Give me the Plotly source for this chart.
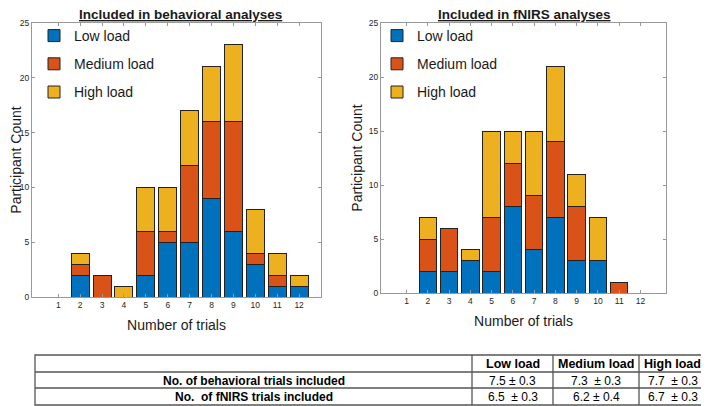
import plotly.graph_objects as go

trials = list(range(1, 13))
loads = ["Low load", "Medium load", "High load"]
colors = ["#0072BD", "#D95319", "#EDB120"]

# behavioral analyses counts per load
beh_low = [0, 2, 0, 0, 2, 5, 5, 9, 6, 3, 1, 1]
beh_med = [0, 1, 2, 0, 4, 1, 7, 7, 10, 1, 1, 0]
beh_high = [0, 1, 0, 1, 4, 4, 5, 5, 7, 4, 2, 1]

# fNIRS analyses counts per load
fn_low = [0, 2, 2, 3, 2, 8, 4, 7, 3, 3, 0, 0]
fn_med = [0, 3, 4, 0, 5, 4, 5, 7, 5, 0, 1, 0]
fn_high = [0, 2, 0, 1, 8, 3, 6, 7, 3, 4, 0, 0]

# summary table
header_labels = ["", "Low load", "Medium load", "High load"]
row_labels = ["No. of behavioral trials included", "No.\u00a0 of fNIRS trials included"]
col_low = ["7.5 ± 0.3", "6.5\u00a0 ± 0.3"]
col_med = ["7.3\u00a0 ± 0.3", "6.2 ± 0.4"]
col_high = ["7.7\u00a0 ± 0.3", "6.7\u00a0 ± 0.3"]

# page body has an 8px margin, so the figure is drawn 8px in and 8px smaller
OFF = 8
W, H = 709 - OFF, 406 - OFF
FONT = "Arial, Liberation Sans, sans-serif"


def px(x):
    return (x - OFF) / W


def py(y):
    return 1 - (y - OFF) / H


fig = go.Figure()

for vals, name, c in zip([beh_low, beh_med, beh_high], loads, colors):
    fig.add_trace(go.Bar(x=trials, y=vals, name=name, marker_color=c,
                         marker_line=dict(color="#222222", width=1),
                         width=0.82, xaxis="x", yaxis="y",
                         legend="legend", legendgroup=name))

for vals, name, c in zip([fn_low, fn_med, fn_high], loads, colors):
    fig.add_trace(go.Bar(x=trials, y=vals, name=name, marker_color=c,
                         marker_line=dict(color="#222222", width=1),
                         width=0.82, xaxis="x2", yaxis="y2",
                         legend="legend2", legendgroup=name))

# table drawn with lines + text so rows stay 17px high
col_edges = [35, 472, 553, 639, 706]
row_edges = [355, 372, 388, 405]
shapes = []
annotations = []
line = dict(color="#555555", width=1.3)
shapes.append(dict(type="rect", xref="paper", yref="paper",
                   x0=px(col_edges[0]), x1=px(col_edges[-1]),
                   y0=py(row_edges[0]), y1=py(row_edges[-1]), line=line))
for ye in row_edges[1:-1]:
    shapes.append(dict(type="line", xref="paper", yref="paper",
                       x0=px(col_edges[0]), x1=px(col_edges[-1]), y0=py(ye), y1=py(ye), line=line))
for xe in col_edges[1:-1]:
    shapes.append(dict(type="line", xref="paper", yref="paper",
                       x0=px(xe), x1=px(xe), y0=py(row_edges[0]), y1=py(row_edges[-1]), line=line))

table_cols = [[header_labels[0]] + row_labels,
              [header_labels[1]] + col_low,
              [header_labels[2]] + col_med,
              [header_labels[3]] + col_high]
for ci, col in enumerate(table_cols):
    cx = (col_edges[ci] + col_edges[ci + 1]) / 2
    for ri, txt in enumerate(col):
        if not txt:
            continue
        cy = (row_edges[ri] + row_edges[ri + 1]) / 2
        bold = ri == 0 or ci == 0
        annotations.append(dict(text=f"<b>{txt}</b>" if bold else txt,
                                x=px(cx), y=py(cy + 0.5), xref="paper", yref="paper",
                                xanchor="center", yanchor="middle", showarrow=False,
                                font=dict(family=FONT, size=12.5 if ri == 0 else 12, color="black")))

annotations += [
    dict(text="<b><u>Included in behavioral analyses</u></b>", x=px(180), y=py(14.5),
         xref="paper", yref="paper", xanchor="center", yanchor="middle", showarrow=False,
         font=dict(family=FONT, size=13.5, color="#1a1a1a")),
    dict(text="<b><u>Included in fNIRS analyses</u></b>", x=px(524), y=py(14.5),
         xref="paper", yref="paper", xanchor="center", yanchor="middle", showarrow=False,
         font=dict(family=FONT, size=13.5, color="#1a1a1a")),
]

axis_common = dict(showline=True, linecolor="#999999", linewidth=1, mirror="ticks",
                   ticks="inside", ticklen=3, tickcolor="#999999", showgrid=False,
                   zeroline=False, automargin=False,
                   tickfont=dict(family=FONT, size=8.5, color="#262626"))

fig.update_layout(
    width=W, height=H,
    margin=dict(l=0, r=0, t=0, b=0, autoexpand=False),
    paper_bgcolor="white", plot_bgcolor="white",
    barmode="stack",
    font=dict(family=FONT, color="#1a1a1a"),
    xaxis=dict(domain=[px(32), px(321)], range=[-0.2, 13], tickvals=trials,
               title=dict(text="Number of trials", font=dict(size=14), standoff=10),
               anchor="y", **axis_common),
    yaxis=dict(domain=[py(297), py(23)], range=[0, 25], tickvals=[0, 5, 10, 15, 20, 25],
               title=dict(text="Participant Count", font=dict(size=14), standoff=2),
               anchor="x", **axis_common),
    xaxis2=dict(domain=[px(381), px(666)], range=[-0.2, 13.2], tickvals=trials,
                title=dict(text="Number of trials", font=dict(size=14), standoff=10),
                anchor="y2", **axis_common),
    yaxis2=dict(domain=[py(293), py(23)], range=[0, 25], tickvals=[0, 5, 10, 15, 20, 25],
                title=dict(text="Participant Count", font=dict(size=14), standoff=2),
                anchor="x2", **axis_common),
    legend=dict(x=px(34), y=py(20), xanchor="left", yanchor="top",
                bgcolor="rgba(0,0,0,0)", tracegroupgap=7,
                font=dict(family=FONT, size=14, color="#1a1a1a")),
    legend2=dict(x=px(377), y=py(20), xanchor="left", yanchor="top",
                 bgcolor="rgba(0,0,0,0)", tracegroupgap=7,
                 font=dict(family=FONT, size=14, color="#1a1a1a")),
    shapes=shapes,
    annotations=annotations,
)

fig.write_html("out.html")
